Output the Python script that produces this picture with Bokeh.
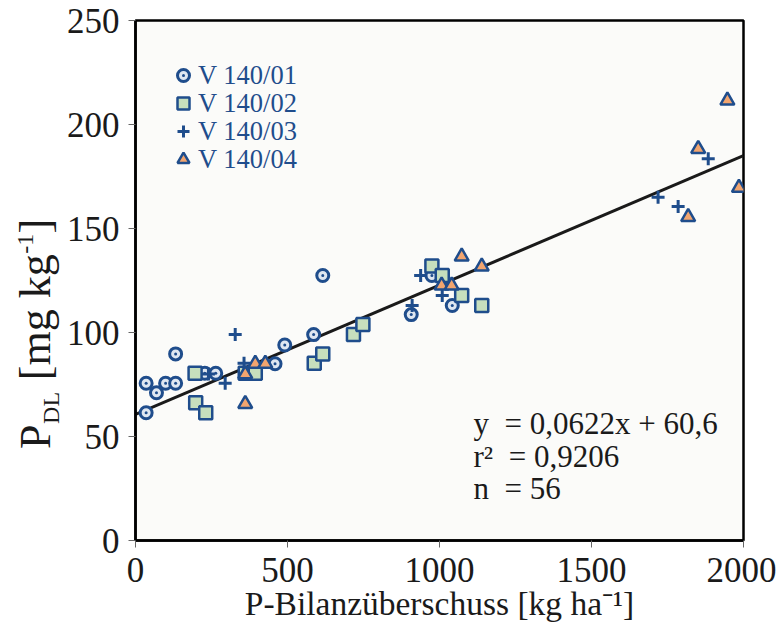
from bokeh.plotting import figure
from bokeh.layouts import row
from bokeh.models import Range1d, Label, Legend, LegendItem, FixedTicker
from bokeh.embed import file_html
from bokeh.resources import INLINE
import math

# ---- data ----
v01_x = [35, 35, 69, 99, 132, 132, 228, 264, 459, 491, 586, 616, 907, 975, 1042]
v01_y = [75.6, 61.4, 71, 75.6, 75.6, 89.7, 80.4, 80.4, 85, 94, 99, 127.4, 108.6, 127.4, 113]
v02_x = [196, 198, 231, 361, 394, 588, 616, 717, 748, 975, 1009, 1073, 1139]
v02_y = [80.4, 66.2, 61.4, 80.4, 80.4, 85.2, 89.7, 99, 103.8, 132, 127.4, 117.8, 113]
v03_x = [240, 295, 328, 357, 910, 938, 1009, 1719, 1785, 1884]
v03_y = [80, 75.6, 99, 85.2, 113, 127.4, 117.8, 165, 160.6, 183.5]
v04_x = [361, 361, 394, 427, 1007, 1040, 1073, 1139, 1818, 1851, 1947, 1985]
v04_y = [80, 65.7, 85, 85, 122.6, 122.6, 136.5, 131.7, 155.5, 188.3, 211.5, 169.6]
series_labels = ["V 140/01", "V 140/02", "V 140/03", "V 140/04"]

slope = 0.0622
intercept = 60.6
fit_x = [0, 2000]
fit_y = [intercept + slope * v for v in fit_x]

x_ticks = [0, 500, 1000, 1500, 2000]
y_ticks = [0, 50, 100, 150, 200, 250]
NB = "\u00a0"
eq_lines = ["y" + NB + NB + "= 0,0622x + 60,6", "r²" + NB + NB + "= 0,9206", "n" + NB + NB + "= 56"]
x_title = "P-Bilanzüberschuss [kg ha⁻¹]"

BLUE = "#1f4d8c"
INK = "#1a1a1a"
SERIF = "Liberation Serif"

TOTAL_H = 632
LEFT_W = 62
FRAME_TOP = 20
FRAME_H = 520

p = figure(frame_width=608, frame_height=FRAME_H,
           min_border_left=135 - LEFT_W, min_border_top=FRAME_TOP, min_border_right=33,
           min_border_bottom=88,
           x_range=Range1d(0, 2000), y_range=Range1d(0, 250),
           output_backend="svg", toolbar_location=None)
p.background_fill_color = "#fbfbf9"
p.border_fill_color = "white"
p.outline_line_color = "black"
p.outline_line_width = 2.5
p.grid.visible = False

for ax in (p.xaxis[0], p.yaxis[0]):
    ax.axis_line_color = "black"
    ax.axis_line_width = 2.5
    ax.major_tick_line_color = "#666666"
    ax.major_tick_line_width = 1
    ax.major_tick_out = 7
    ax.major_tick_in = 0
    ax.minor_tick_line_color = None
    ax.major_label_text_font = SERIF
    ax.major_label_text_font_size = "35px"
    ax.major_label_text_color = INK

p.xaxis.ticker = FixedTicker(ticks=x_ticks)
p.yaxis.ticker = FixedTicker(ticks=y_ticks)
p.xaxis.major_label_standoff = 10
p.yaxis.major_label_standoff = 9
p.xaxis.axis_label = x_title
p.xaxis.axis_label_text_font = SERIF
p.xaxis.axis_label_text_font_size = "33.5px"
p.xaxis.axis_label_text_font_style = "normal"
p.xaxis.axis_label_text_color = INK
p.xaxis.axis_label_standoff = 0

# regression line
p.line(fit_x, fit_y, line_color=INK, line_width=3)

# series
r1 = p.scatter(v01_x, v01_y, marker="circle_dot", size=12, fill_color="#dfe7f1",
               line_color=BLUE, line_width=3)
r2 = p.scatter(v02_x, v02_y, marker="square", size=13, fill_color="#c6dfbd",
               line_color=BLUE, line_width=2.5)
r3 = p.scatter(v03_x, v03_y, marker="cross", size=13, line_color=BLUE, line_width=3)
r4 = p.scatter(v04_x, v04_y, marker="triangle", size=14, fill_color="#f2a56f",
               line_color=BLUE, line_width=2.5)

# legend: one entry per Legend so the row spacing can follow the reference
leg_rows = [445, 417, 389, 361]
for lab, rend, vy in zip(series_labels, [r1, r2, r3, r4], leg_rows):
    lg = Legend(items=[LegendItem(label=lab, renderers=[rend])], location=(33, vy))
    lg.margin = 0
    lg.padding = 0
    lg.spacing = 0
    lg.glyph_width = 30
    lg.glyph_height = 40
    lg.label_standoff = 0
    lg.label_text_font = SERIF
    lg.label_text_font_size = "26.5px"
    lg.label_text_color = BLUE
    lg.background_fill_alpha = 0
    lg.border_line_alpha = 0
    p.add_layout(lg)

# equation text
eq_y = [56.3, 40.4, 25.0]
for txt, yy in zip(eq_lines, eq_y):
    p.add_layout(Label(x=1112, y=yy, text=txt, text_font=SERIF, text_font_size="31px",
                       text_color=INK, text_baseline="middle", text_align="left"))

# ---- y axis title in its own narrow panel (P with subscript DL, superscript -1) ----
# the panel's frame is aligned with the main frame; its y range is set so that
# y = TOTAL_H - (pixel row from the top of the page)
yt = figure(width=LEFT_W, height=TOTAL_H, x_range=Range1d(0, LEFT_W),
            y_range=Range1d(TOTAL_H - FRAME_TOP - FRAME_H, TOTAL_H - FRAME_TOP),
            min_border=0, x_axis_location=None, y_axis_location=None,
            output_backend="svg", toolbar_location=None)
yt.outline_line_color = None
yt.background_fill_color = "white"
yt.border_fill_color = "white"
yt.grid.visible = False
ang = math.pi / 2
pieces = [  # text, centre x, centre y (from top), font size
    ("P", 35, 433, "44px"),
    ("DL", 50, 404.5, "24px"),
    ("[mg kg", 35, 314.5, "44px"),
    ("-1", 25, 241.5, "24px"),
    ("]", 35, 224, "44px"),
]
for txt, cx, cy, fs in pieces:
    yt.add_layout(Label(x=cx, y=TOTAL_H - cy, text=txt, angle=ang, text_font=SERIF,
                        text_font_size=fs, text_color=INK, text_baseline="middle",
                        text_align="center"))

layout = row(yt, p)
open("out.html", "w").write(file_html(layout, INLINE))
